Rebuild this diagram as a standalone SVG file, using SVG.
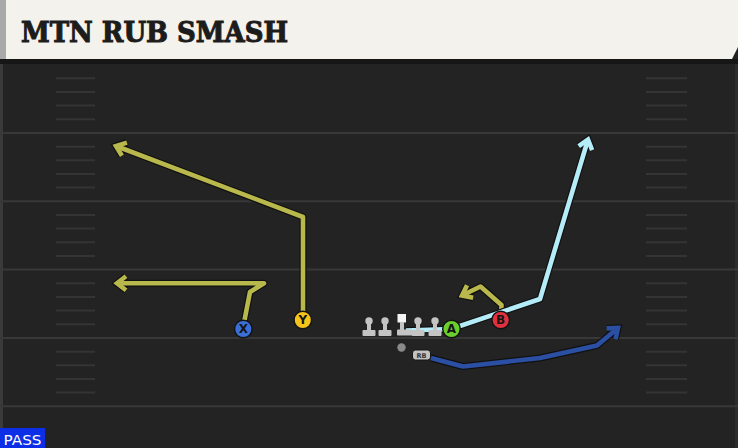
<svg xmlns="http://www.w3.org/2000/svg" width="738" height="448" viewBox="0 0 738 448">
<defs>
<style>
.yl{stroke:#383838;stroke-width:2}
.hm{stroke:#343434;stroke-width:2}
.under{fill:none;stroke:#111;stroke-width:7;stroke-linejoin:round;stroke-linecap:butt}
.route{fill:none;stroke-width:4.6;stroke-linejoin:round;stroke-linecap:butt}
.olive{stroke:#b8b84c}
.lblue{stroke:#b4ecf8}
.dblue{stroke:#2b4fa3}
.pc{stroke:#141414;stroke-width:1.5}
.pl{font-family:"DejaVu Sans",sans-serif;font-size:12px;font-weight:bold;fill:#151515;text-anchor:middle}
.ol{fill:#c4c4c4}
</style>
<marker id="aU" markerUnits="userSpaceOnUse" markerWidth="30" markerHeight="30" viewBox="-15 -15 30 30" refX="0" refY="0" orient="auto"><path d="M-9,-7 L0,0 L-9,7" fill="none" stroke="#111" stroke-width="7"/></marker>
<marker id="aO" markerUnits="userSpaceOnUse" markerWidth="30" markerHeight="30" viewBox="-15 -15 30 30" refX="0" refY="0" orient="auto"><path d="M-9,-7 L0,0 L-9,7" fill="none" stroke="#b8b84c" stroke-width="4.6"/></marker>
<marker id="aL" markerUnits="userSpaceOnUse" markerWidth="30" markerHeight="30" viewBox="-15 -15 30 30" refX="0" refY="0" orient="auto"><path d="M-9,-7 L0,0 L-9,7" fill="none" stroke="#b4ecf8" stroke-width="4.6"/></marker>
<marker id="aD" markerUnits="userSpaceOnUse" markerWidth="30" markerHeight="30" viewBox="-15 -15 30 30" refX="0" refY="0" orient="auto"><path d="M-9,-7 L0,0 L-9,7" fill="none" stroke="#2b4fa3" stroke-width="4.6"/></marker>
</defs>

<!-- field -->
<rect x="0" y="0" width="738" height="448" fill="#232323"/>
<rect x="0" y="60" width="3" height="388" fill="#3a3a3a"/>
<rect x="735" y="60" width="3" height="388" fill="#2c2c2c"/>
<g id="field">
<line class="yl" x1="0" y1="133" x2="738" y2="133"/>
<line class="yl" x1="0" y1="201.3" x2="738" y2="201.3"/>
<line class="yl" x1="0" y1="269.6" x2="738" y2="269.6"/>
<line class="yl" x1="0" y1="338" x2="738" y2="338"/>
<line class="yl" x1="0" y1="406.3" x2="738" y2="406.3"/>
<path class="hm" d="M56,78.3H95M56,92H95M56,105.6H95M56,119.3H95M56,146.7H95M56,160.3H95M56,174H95M56,187.6H95M56,215H95M56,228.6H95M56,242.3H95M56,255.9H95M56,283.3H95M56,297H95M56,310.6H95M56,324.3H95M56,351.7H95M56,365.3H95M56,379H95M56,392.6H95"/>
<path class="hm" d="M646,78.3H687M646,92H687M646,105.6H687M646,119.3H687M646,146.7H687M646,160.3H687M646,174H687M646,187.6H687M646,215H687M646,228.6H687M646,242.3H687M646,255.9H687M646,283.3H687M646,297H687M646,310.6H687M646,324.3H687M646,351.7H687M646,365.3H687M646,379H687M646,392.6H687"/>
</g>

<!-- header -->
<g id="header">
<rect x="0" y="59" width="738" height="5" fill="#161616"/>
<rect x="0" y="0" width="6" height="59" fill="#a9a9a9"/>
<polygon points="6,0 738,0 738,47 732,59 6,59" fill="#f4f2ec"/>
<text x="21" y="42" font-family="'DejaVu Serif',serif" font-weight="bold" font-size="27" fill="#1c1c1c" stroke="#1c1c1c" stroke-width="1" textLength="267" lengthAdjust="spacingAndGlyphs">MTN RUB SMASH</text>
</g>

<!-- connectors -->
<g id="connectors">
<path class="under" d="M243,328 L250,292 L264,283.3 L117,283.3" marker-end="url(#aU)"/>
<path class="route olive" d="M243,328 L250,292 L264,283.3 L117,283.3" marker-end="url(#aO)"/>
<path class="under" d="M303,320 L303,217 L116,146" marker-end="url(#aU)"/>
<path class="route olive" d="M303,320 L303,217 L116,146" marker-end="url(#aO)"/>
<path class="under" d="M501,320 L501.5,305 L480.5,286.5 L462,295.5" marker-end="url(#aU)"/>
<path class="route olive" d="M501,320 L501.5,305 L480.5,286.5 L462,295.5" marker-end="url(#aO)"/>
<path class="under" d="M406,330.5 L451,329 L540,299 L588,139.5" marker-end="url(#aU)"/>
<path class="route lblue" d="M406,330.5 L451,329 L540,299 L588,139.5" marker-end="url(#aL)"/>
<path class="under" d="M431,358 L463,366.5 L540,358 L597,345.5 L618,328" marker-end="url(#aU)"/>
<path class="route dblue" d="M431,358 L463,366.5 L540,358 L597,345.5 L618,328" marker-end="url(#aD)"/>
</g>

<!-- offensive line -->
<g id="lt"><circle class="ol" cx="369" cy="321" r="3.7"/><rect class="ol" x="367" y="321" width="4" height="10"/><rect class="ol" x="362.5" y="330" width="13" height="6" rx="1"/></g>
<g id="lg"><circle class="ol" cx="385" cy="321" r="3.7"/><rect class="ol" x="383" y="321" width="4" height="10"/><rect class="ol" x="378.5" y="330" width="13" height="6" rx="1"/></g>
<g id="c"><rect x="397.5" y="314" width="8.5" height="8.5" fill="#f4f4f4"/><rect class="ol" x="400" y="322" width="4" height="9"/><rect class="ol" x="397" y="329.5" width="15" height="6" rx="1"/></g>
<g id="rg"><circle class="ol" cx="418" cy="321" r="3.7"/><rect class="ol" x="416" y="321" width="4" height="10"/><rect class="ol" x="411.5" y="330" width="13" height="6" rx="1"/></g>
<g id="rt"><circle class="ol" cx="435" cy="321" r="3.7"/><rect class="ol" x="433" y="321" width="4" height="10"/><rect class="ol" x="428.5" y="330" width="13" height="6" rx="1"/></g>
<g id="qb"><circle cx="401.5" cy="347.5" r="4.2" fill="#8a8a8a"/></g>
<g id="rb"><rect x="412.5" y="350" width="18" height="10" rx="3" fill="#c2c2c2" stroke="#151515" stroke-width="1"/><text x="421.5" y="358" font-family="'DejaVu Sans',sans-serif" font-size="6.5" font-weight="bold" fill="#333" text-anchor="middle">RB</text></g>

<!-- receivers -->
<g id="X"><circle class="pc" cx="243.3" cy="329" r="8.8" fill="#3a6fd8"/><text class="pl" x="243.3" y="333.3">X</text></g>
<g id="Y"><circle class="pc" cx="302.8" cy="320" r="8.8" fill="#f5c41a"/><text class="pl" x="302.8" y="324.3">Y</text></g>
<g id="A"><circle class="pc" cx="451.5" cy="329" r="8.8" fill="#6acf2c"/><text class="pl" x="451.5" y="333.3">A</text></g>
<g id="B"><circle class="pc" cx="500.7" cy="320" r="8.8" fill="#e3303e"/><text class="pl" x="500.7" y="324.3">B</text></g>

<!-- pass label -->
<g id="pass"><rect x="0" y="428" width="45" height="20" fill="#0b2ee6"/><text x="3.5" y="444.5" font-family="'DejaVu Sans',sans-serif" font-size="14" fill="#ffffff" textLength="38" lengthAdjust="spacingAndGlyphs">PASS</text></g>
</svg>
